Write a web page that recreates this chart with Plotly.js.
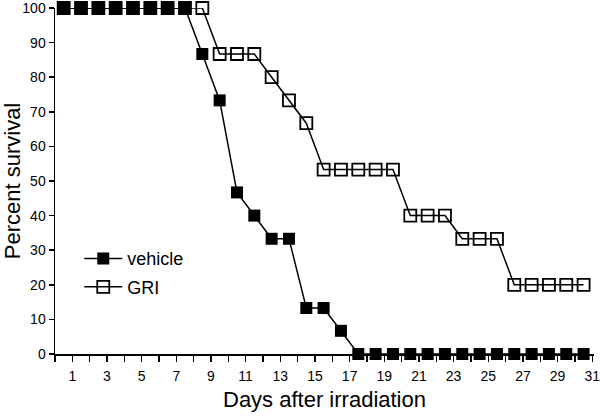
<!DOCTYPE html>
<html>
<head>
<meta charset="utf-8">
<script src="https://cdn.plot.ly/plotly-3.0.1.min.js"></script>
<style>html,body{margin:0;padding:0;background:#fff}#chart{width:600px;height:416px}</style>
</head>
<body>
<div id="chart"></div>
<script>
// Days after irradiation (one survival value per day)
const days = [1,2,3,4,5,6,7,8,9,10,11,12,13,14,15,16,17,18,19,20,21,22,23,24,25,26,27,28,29,30,31];
// Percent survival, vehicle group
const vehicle = [100,100,100,100,100,100,100,100,86.7,73.3,46.7,40,33.3,33.3,13.3,13.3,6.7,0,0,0,0,0,0,0,0,0,0,0,0,0,0];
// Percent survival, GRI group
const gri = [100,100,100,100,100,100,100,100,100,86.7,86.7,86.7,80,73.3,66.7,53.3,53.3,53.3,53.3,53.3,40,40,40,33.3,33.3,33.3,20,20,20,20,20];
// Axis tick labels
const xTickLabels = ['1','3','5','7','9','11','13','15','17','19','21','23','25','27','29','31'];
const yTicks = [0,10,20,30,40,50,60,70,80,90,100];

// tick marks sit between daily points; labelled ticks follow each labelled day
const xTickVals = [], xTickText = [];
for (let k = 0; k <= 31; k++) {
  xTickVals.push(k + 0.5);
  const lbl = String(k);
  xTickText.push(xTickLabels.indexOf(lbl) >= 0 ? lbl : '');
}

const traces = [
  {
    x: days, y: gri, name: 'GRI', type: 'scatter', mode: 'lines+markers',
    line: {color: '#000', width: 1.5},
    marker: {symbol: 'square-open', size: 12, color: '#000', line: {width: 1.8, color: '#000'}},
    cliponaxis: false, legendrank: 2, legendgroup: 'b'
  },
  {
    x: days, y: vehicle, name: 'vehicle', type: 'scatter', mode: 'lines+markers',
    line: {color: '#000', width: 1.5},
    marker: {symbol: 'square', size: 12, color: '#000', line: {width: 0}},
    cliponaxis: false, legendrank: 1, legendgroup: 'a'
  }
];

const layout = {
  width: 600, height: 416,
  margin: {l: 55, r: 6, t: 8, b: 62},
  paper_bgcolor: '#fff', plot_bgcolor: '#fff',
  font: {family: 'Liberation Sans, Arial, sans-serif', color: '#000'},
  showlegend: true,
  legend: {
    x: 0.045, y: 0.235, xanchor: 'left', yanchor: 'middle',
    bgcolor: 'rgba(0,0,0,0)', font: {size: 18, color: '#000'},
    traceorder: 'grouped', tracegroupgap: 2, itemwidth: 38
  },
  xaxis: {
    range: [0.5, 31.6],
    tickmode: 'array', tickvals: xTickVals, ticktext: xTickText,
    ticks: 'outside', ticklen: 6, tickwidth: 1.5, tickcolor: '#000',
    showline: true, linecolor: '#000', linewidth: 1.5,
    showgrid: false, zeroline: false,
    ticklabeloverflow: 'allow', ticklabelstandoff: 3,
    tickfont: {size: 14, color: '#000'},
    title: {text: 'Days after irradiation', font: {size: 22, color: '#000'}, standoff: 8}
  },
  yaxis: {
    range: [0, 100],
    tickmode: 'array', tickvals: yTicks,
    ticks: 'outside', ticklen: 5, tickwidth: 1.5, tickcolor: '#000',
    showline: true, linecolor: '#000', linewidth: 1.5,
    showgrid: false, zeroline: false,
    ticklabeloverflow: 'allow',
    tickfont: {size: 14, color: '#000'},
    title: {text: 'Percent survival', font: {size: 22, color: '#000'}, standoff: 4}
  }
};

Plotly.newPlot('chart', traces, layout, {staticPlot: true, displayModeBar: false});
</script>
</body>
</html>
